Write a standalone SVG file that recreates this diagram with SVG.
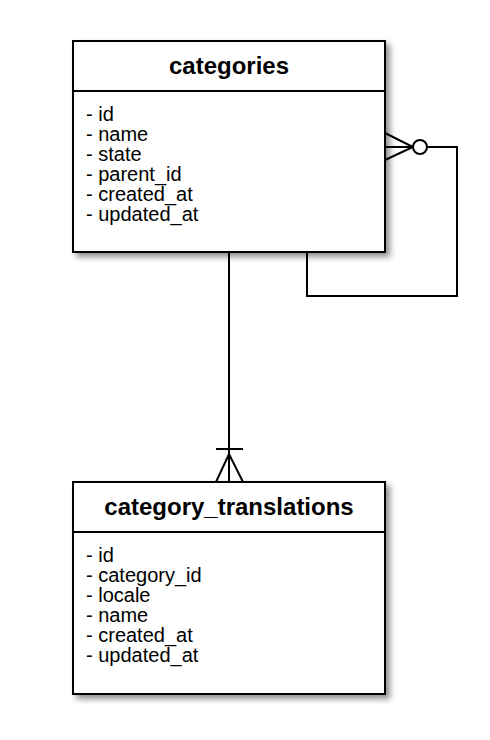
<svg xmlns="http://www.w3.org/2000/svg" width="490" height="740" viewBox="0 0 490 740">
<defs>
<filter id="sh" x="-10%" y="-10%" width="130%" height="130%">
<feGaussianBlur in="SourceAlpha" stdDeviation="3"/>
<feOffset dx="4" dy="4" result="b"/>
<feComponentTransfer><feFuncA type="linear" slope="0.45"/></feComponentTransfer>
<feMerge><feMergeNode/><feMergeNode in="SourceGraphic"/></feMerge>
</filter>
</defs>
<style>
.box{fill:#fff;stroke:#000;stroke-width:2}
.ln{fill:none;stroke:#000;stroke-width:2}
.t{font-family:"Liberation Sans",Arial,sans-serif;font-size:24px;font-weight:bold;text-anchor:middle}
.a{font-family:"Liberation Sans",Arial,sans-serif;font-size:20px}
</style>
<rect width="490" height="740" fill="#fff"/>
<g id="connectors">
<path class="ln" d="M229 253V482"/>
<path class="ln" d="M216 449H243"/>
<path class="ln" d="M216 482L229 454L243 482"/>
<path class="ln" d="M307 253V296H457V147H427"/>
<path class="ln" d="M385 133L413 147L385 160M385 147H413"/>
<circle cx="420" cy="147" r="7" fill="#fff" stroke="#000" stroke-width="2"/>
</g>
<g id="categories">
<rect class="box" x="73" y="41" width="312" height="211" filter="url(#sh)"/>
<path class="ln" d="M73 91H385"/>
<text class="t" x="229" y="74">categories</text>
<text class="a" x="86" y="121">- id</text>
<text class="a" x="86" y="141">- name</text>
<text class="a" x="86" y="161">- state</text>
<text class="a" x="86" y="181">- parent_id</text>
<text class="a" x="86" y="201">- created_at</text>
<text class="a" x="86" y="221">- updated_at</text>
</g>
<g id="category_translations">
<rect class="box" x="73" y="482" width="312" height="212" filter="url(#sh)"/>
<path class="ln" d="M73 532H385"/>
<text class="t" x="229" y="515">category_translations</text>
<text class="a" x="86" y="562">- id</text>
<text class="a" x="86" y="582">- category_id</text>
<text class="a" x="86" y="602">- locale</text>
<text class="a" x="86" y="622">- name</text>
<text class="a" x="86" y="642">- created_at</text>
<text class="a" x="86" y="662">- updated_at</text>
</g>
</svg>
